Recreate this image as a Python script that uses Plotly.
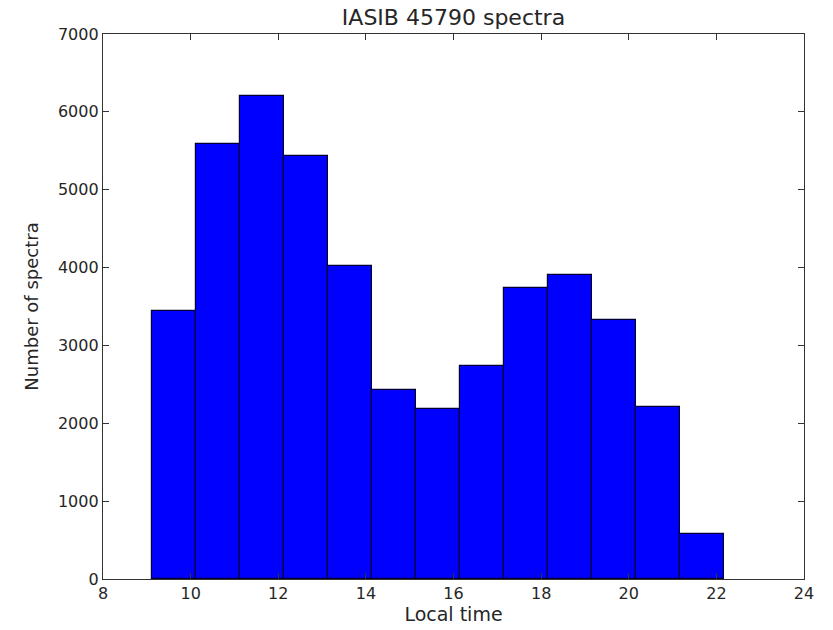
import plotly.graph_objects as go

# Histogram of IASI-B spectra counts by local time (hour bins)
bin_edges = [9.12, 10.12, 11.13, 12.13, 13.14, 14.14, 15.14,
             16.15, 17.15, 18.16, 19.16, 20.17, 21.17, 22.18]
counts = [3440, 5590, 6210, 5430, 4020, 2430, 2180,
          2730, 3740, 3910, 3325, 2210, 575]

x_ticks = [8, 10, 12, 14, 16, 18, 20, 22, 24]
y_ticks = [0, 1000, 2000, 3000, 4000, 5000, 6000, 7000]

total = sum(counts)
centers = [(a + b) / 2 for a, b in zip(bin_edges[:-1], bin_edges[1:])]
widths = [b - a for a, b in zip(bin_edges[:-1], bin_edges[1:])]

FONT = "DejaVu Sans"
TEXT = "#262626"

fig = go.Figure(
    go.Bar(
        x=centers,
        y=counts,
        width=widths,
        marker=dict(color="#0000ff", line=dict(color="#000033", width=1.2)),
        hoverinfo="x+y",
    )
)

axis_common = dict(
    showline=True,
    linecolor="#333333",
    linewidth=1.3,
    mirror="ticks",
    ticks="inside",
    ticklen=6,
    tickcolor="#333333",
    showgrid=False,
    zeroline=False,
    automargin=False,
    tickfont=dict(family=FONT, size=16, color=TEXT),
)

fig.update_layout(
    width=833,
    height=630,
    margin=dict(l=103, r=29, t=34, b=51),
    paper_bgcolor="white",
    plot_bgcolor="white",
    bargap=0,
    showlegend=False,
    title=dict(
        text=f"IASIB {total} spectra",
        xref="paper",
        x=0.5,
        xanchor="center",
        yref="container",
        y=0.973,
        yanchor="middle",
        font=dict(family=FONT, size=22, color=TEXT),
    ),
    xaxis=dict(
        range=[8, 24],
        tickvals=x_ticks,
        ticktext=[str(v) for v in x_ticks],
        title=dict(text="Local time", font=dict(family=FONT, size=19, color=TEXT), standoff=4),
        **axis_common,
    ),
    yaxis=dict(
        range=[0, 7000],
        tickvals=y_ticks,
        ticktext=[str(v) for v in y_ticks],
        title=dict(text="Number of spectra", font=dict(family=FONT, size=18, color=TEXT), standoff=14),
        **axis_common,
    ),
)

fig.write_html("out.html")
